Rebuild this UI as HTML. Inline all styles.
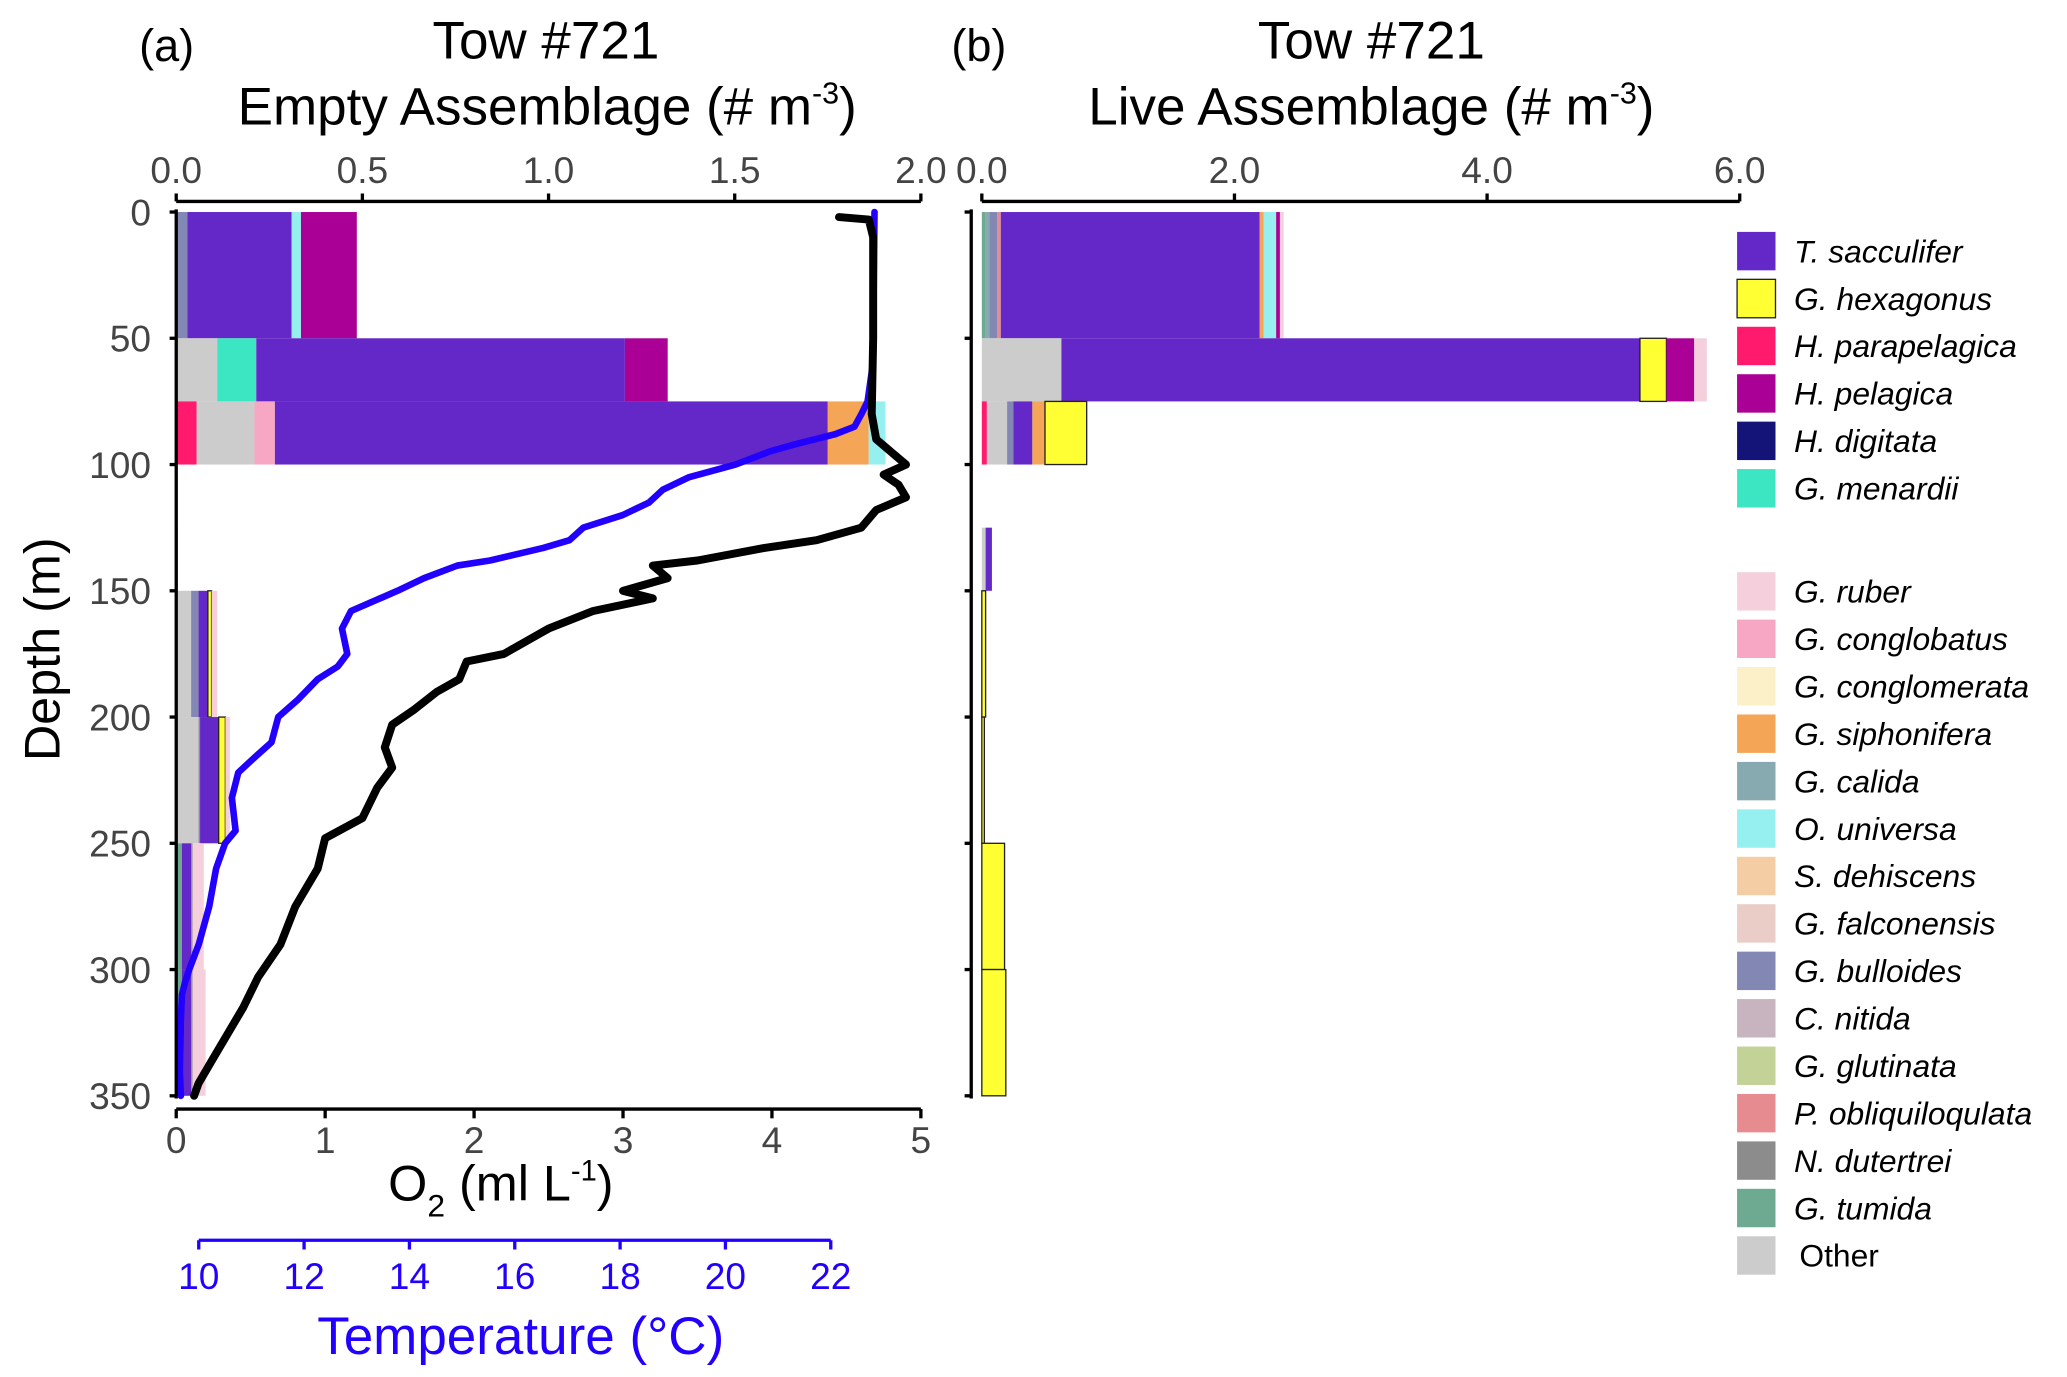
<!DOCTYPE html>
<html><head><meta charset="utf-8"><style>
html,body{margin:0;padding:0;background:#fff;}
svg{display:block;font-family:"Liberation Sans",sans-serif;}
</style></head><body>
<svg id="chart" width="2067" height="1377" viewBox="0 0 1560 1039.2" xmlns="http://www.w3.org/2000/svg">
<g id="static">
  <text x="105" y="46" font-size="34" fill="#000">(a)</text>
  <text x="412" y="44" font-size="40" text-anchor="middle">Tow #721</text>
  <text x="413" y="94" font-size="40" text-anchor="middle">Empty Assemblage (# m<tspan font-size="23" dy="-16">-3</tspan><tspan dy="16">)</tspan></text>
  <text x="718" y="46" font-size="34">(b)</text>
  <text x="1035" y="44" font-size="40" text-anchor="middle">Tow #721</text>
  <text x="1035" y="94" font-size="40" text-anchor="middle">Live Assemblage (# m<tspan font-size="23" dy="-16">-3</tspan><tspan dy="16">)</tspan></text>
  <text transform="translate(45,490) rotate(-90)" font-size="38" text-anchor="middle">Depth (m)</text>
  <text x="378" y="906" font-size="38" text-anchor="middle">O<tspan font-size="24" dy="12">2</tspan><tspan dy="-12"> (ml L</tspan><tspan font-size="22" dy="-15">-1</tspan><tspan dy="15">)</tspan></text>
  <text x="393" y="1022" font-size="40" fill="#2200ff" text-anchor="middle">Temperature (°C)</text>
</g>
<g id="dyn"></g>
</svg>
<script>
// ---- data ----
const depthTicks = [0, 50, 100, 150, 200, 250, 300, 350];
const emptyTicks = [0.0, 0.5, 1.0, 1.5, 2.0];
const liveTicks = [0.0, 2.0, 4.0, 6.0];
const o2Ticks = [0, 1, 2, 3, 4, 5];
const tempTicks = [10, 12, 14, 16, 18, 20, 22];
const binTops = [0, 50, 75, 125, 150, 200, 250, 300];
const binBottoms = [50, 75, 100, 150, 200, 250, 300, 350];
const speciesNames = ["T. sacculifer","G. hexagonus","H. parapelagica","H. pelagica","H. digitata","G. menardii","G. ruber","G. conglobatus","G. conglomerata","G. siphonifera","G. calida","O. universa","S. dehiscens","G. falconensis","G. bulloides","C. nitida","G. glutinata","P. obliquiloqulata","N. dutertrei","G. tumida","Other"];
const speciesColors = ["#6528c8","#ffff33","#ff1a6e","#aa0096","#141478","#3ce6c3","#f5d0dc","#f7a6c3","#fbf0c8","#f5a556","#87aab0","#96f0f0","#f5cda5","#ebcdc8","#8287b4","#c8b4be","#c3d296","#e68c91","#8c8c8c","#6eaa91","#cccccc"];
const emptySpecies = [
  [14, 0, 11, 3],
  [20, 5, 0, 3],
  [2, 20, 7, 0, 9, 11],
  [18],
  [20, 14, 0, 1, 6],
  [20, 18, 0, 1, 6],
  [19, 0, 18, 6],
  [19, 0, 18, 6]
];
const emptyValues = [
  [0.03, 0.28, 0.025, 0.15],
  [0.11, 0.105, 0.99, 0.115],
  [0.055, 0.155, 0.055, 1.485, 0.11, 0.045],
  [0.004],
  [0.04, 0.02, 0.025, 0.01, 0.015],
  [0.06, 0.004, 0.05, 0.018, 0.012],
  [0.015, 0.025, 0.004, 0.03],
  [0.015, 0.025, 0.004, 0.035]
];
const liveSpecies = [
  [19, 10, 14, 17, 0, 9, 11, 3, 6],
  [20, 0, 1, 3, 6],
  [2, 20, 14, 0, 9, 1],
  [20, 0],
  [1],
  [1],
  [1],
  [1]
];
const liveValues = [
  [0.03, 0.03, 0.06, 0.03, 2.05, 0.03, 0.1, 0.03, 0.03],
  [0.63, 4.58, 0.21, 0.22, 0.1],
  [0.04, 0.16, 0.05, 0.15, 0.1, 0.33],
  [0.03, 0.05],
  [0.03],
  [0.02],
  [0.18],
  [0.19]
];
const o2Depth = [2,3,10,50,80,90,95,100,104,108,113,118,125,130,133,138,140,145,150,153,158,165,175,178,185,190,197,203,212,220,228,240,248,260,275,290,303,315,325,335,345,350];
const o2Values = [4.45,4.65,4.68,4.68,4.67,4.7,4.8,4.9,4.75,4.85,4.9,4.7,4.6,4.3,3.95,3.5,3.2,3.3,3.0,3.2,2.8,2.5,2.2,1.95,1.9,1.75,1.6,1.45,1.4,1.45,1.35,1.25,1.0,0.95,0.8,0.7,0.55,0.45,0.35,0.25,0.15,0.12];
const tempDepth = [0,60,75,80,85,88,92,95,100,105,110,115,120,125,130,133,138,140,145,150,158,165,175,180,185,193,200,210,217,222,232,245,250,260,275,290,300,305,310,320,340,350];
const tempValues = [22.83,22.8,22.7,22.58,22.45,22.08,21.32,20.82,20.19,19.31,18.81,18.55,18.05,17.3,17.04,16.54,15.53,14.91,14.28,13.77,12.89,12.72,12.82,12.64,12.26,11.89,11.51,11.38,11.01,10.75,10.63,10.7,10.5,10.33,10.2,10.0,9.82,9.74,9.68,9.66,9.64,9.66];

// ---- scales ----
const yD = d => 160 + d * (827 - 160) / 350;
const xE = v => 133 + v * (695 - 133) / 2;
const xL = v => 741 + v * (1313 - 741) / 6;
const xO = v => 133 + v * (695 - 133) / 5;
const xT = v => 150 + (v - 10) * (627 - 150) / 12;

const NS = "http://www.w3.org/2000/svg";
const root = document.getElementById("dyn");
function mk(tag, attrs, parent) {
  const e = document.createElementNS(NS, tag);
  for (const k in attrs) e.setAttribute(k, attrs[k]);
  (parent || root).appendChild(e);
  return e;
}

function bars(specs, vals, xs, name) {
  const g = mk("g", {});
  
  
  specs.forEach((row, b) => {
    let acc = 0;
    row.forEach((s, i) => {
      const x0 = xs(acc); acc += vals[b][i]; const x1 = xs(acc);
      const r = mk("rect", {x: x0, y: yD(binTops[b]), width: Math.max(0.6, x1 - x0), height: yD(binBottoms[b]) - yD(binTops[b]), fill: speciesColors[s]}, g);
      if (s === 1) { r.setAttribute("stroke", "#222"); r.setAttribute("stroke-width", "1"); }
      
      
    });
  });
}
bars(emptySpecies, emptyValues, xE, "empty-assemblage-bars");
bars(liveSpecies, liveValues, xL, "live-assemblage-bars");

function line(ds, vs, xs, color, w, name) {
  const p = ds.map((d, i) => (i ? "L" : "M") + xs(vs[i]).toFixed(1) + "," + yD(d).toFixed(1)).join("");
  const e = mk("path", {d: p, fill: "none", stroke: color, "stroke-width": w, "stroke-linejoin": "round", "stroke-linecap": "round"});
  
  
}
line(tempDepth, tempValues, xT, "#2200ff", 5, "temperature-line");
line(o2Depth, o2Values, xO, "#000", 6, "o2-line");

function axisLine(x1, y1, x2, y2, color, name) {
  const e = mk("line", {x1, y1, x2, y2, stroke: color, "stroke-width": 2.5});
  
  
}
function label(x, y, t, size, color, anchor, name) {
  const e = mk("text", {x, y, "font-size": size, fill: color, "text-anchor": anchor});
  e.textContent = t;
  
  
}
axisLine(133, 158, 133, 829, "#000", "left-y-axis");
depthTicks.forEach(d => {
  axisLine(128, yD(d), 133, yD(d), "#000", "y-tick");
  label(114, yD(d) + 10, String(d), 28, "#444", "end", "y-tick-label");
});
axisLine(733, 158, 733, 829, "#000", "right-y-axis");
depthTicks.forEach(d => axisLine(728, yD(d), 733, yD(d), "#000", "y-tick"));
axisLine(133, 152, 695, 152, "#000", "empty-top-axis");
emptyTicks.forEach(v => {
  axisLine(xE(v), 146, xE(v), 152, "#000", "x-tick");
  label(xE(v), 138, v.toFixed(1), 28, "#444", "middle", "x-tick-label");
});
axisLine(741, 152, 1313, 152, "#000", "live-top-axis");
liveTicks.forEach(v => {
  axisLine(xL(v), 146, xL(v), 152, "#000", "x-tick");
  label(xL(v), 138, v.toFixed(1), 28, "#444", "middle", "x-tick-label");
});
axisLine(133, 837, 695, 837, "#000", "o2-axis");
o2Ticks.forEach(v => {
  axisLine(xO(v), 837, xO(v), 844, "#000", "o2-tick");
  label(xO(v), 870, String(v), 28, "#444", "middle", "o2-tick-label");
});
axisLine(150, 936, 627, 936, "#2200ff", "temperature-axis");
tempTicks.forEach(v => {
  axisLine(xT(v), 936, xT(v), 943, "#2200ff", "temperature-tick");
  label(xT(v), 973, String(v), 28, "#2200ff", "middle", "temperature-tick-label");
});

const legendOrder = [0,1,2,3,4,5,null,6,7,8,9,10,11,12,13,14,15,16,17,18,19,20];
let ly = 175;
legendOrder.forEach(s => {
  if (s === null) { ly += 42; return; }
  const g = mk("g", {});
  
  
  const r = mk("rect", {x: 1311, y: ly, width: 29, height: 29, fill: speciesColors[s]}, g);
  if (s === 1) { r.setAttribute("stroke", "#222"); r.setAttribute("stroke-width", "1"); }
  
  
  const t = mk("text", {x: s === 20 ? 1358 : 1354, y: ly + 23, "font-size": 24, "font-style": s === 20 ? "normal" : "italic"}, g);
  t.textContent = speciesNames[s];
  
  
  ly += 35.8;
});
</script>
</body></html>
